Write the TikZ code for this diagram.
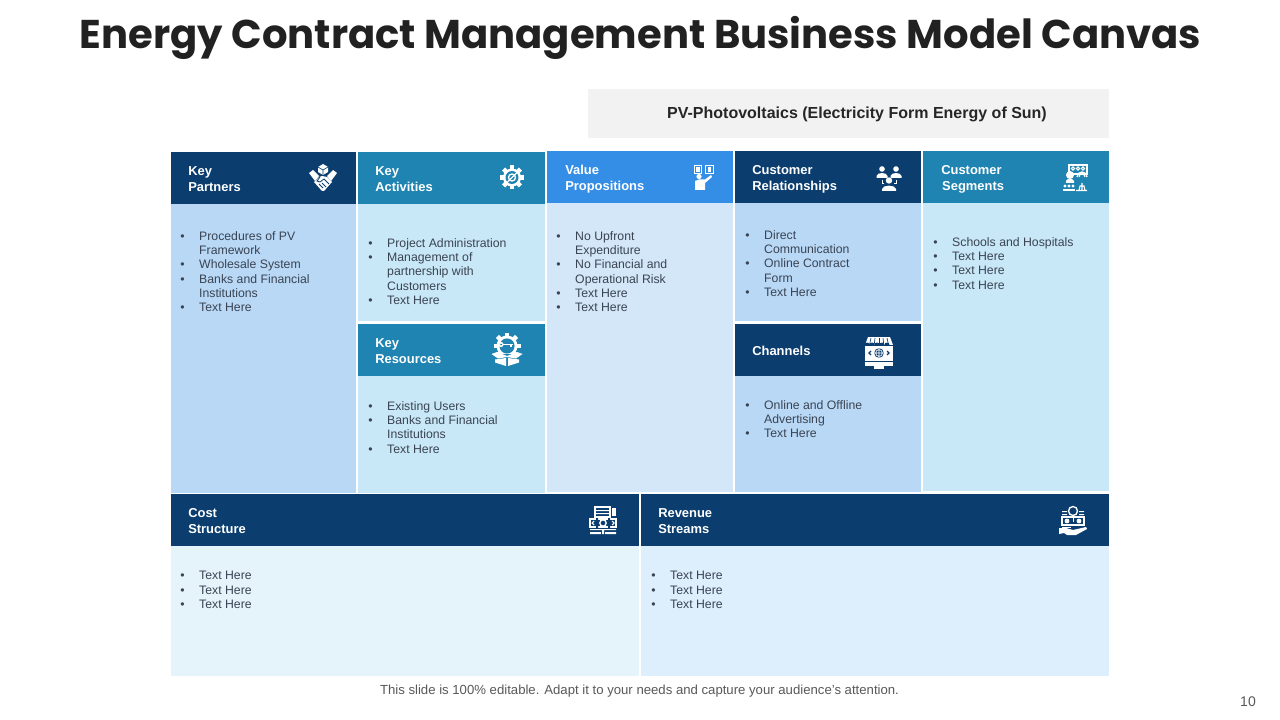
\documentclass[tikz,border=0pt]{standalone}
\usepackage{fontspec}
\setmainfont{Liberation Sans}
\newfontfamily\titlefont{Poppins}
\definecolor{navy}{HTML}{0B3E6F}
\definecolor{teal1}{HTML}{1F84B1}
\definecolor{blue1}{HTML}{358EE6}
\definecolor{bodyA}{HTML}{B8D8F6}
\definecolor{bodyB}{HTML}{C9E8F7}
\definecolor{bodyC}{HTML}{D3E7F9}
\definecolor{bodyD}{HTML}{E5F3FA}
\definecolor{bodyE}{HTML}{DDEEFD}
\definecolor{txt}{HTML}{3A4453}
\newcommand{\bul}{\makebox[14.2pt][l]{\textbullet}}
\newcommand{\cont}{\hspace*{14.2pt}}
\tikzset{
  x=0.75pt,y=-0.75pt,
  head/.style={anchor=north west,inner sep=0pt,align=left,text=white,font=\fontsize{9.7}{12}\selectfont\bfseries},
  bodytxt/.style={anchor=north west,inner sep=0pt,align=left,text=txt,font=\fontsize{9.2}{10.75}\selectfont},
}
\newcommand{\gearshape}[4]{% radius, tooth len, n step, hole colour
  \fill[white] (0,0) circle (#1);
  \foreach \a in {0,#3,...,359}{\fill[white,rotate=\a] (-2.2,-#1-#2) rectangle (2.2,-#1+1);}
  \fill[#4] (0,0) circle (#1*0.72);
}
\begin{document}
\begin{tikzpicture}
\useasboundingbox (0,0) rectangle (1280,720);
\fill[white] (0,0) rectangle (1280,720);
% bodies
\fill[bodyA] (171,204) rectangle (356,493);
\fill[bodyB] (358,204) rectangle (545,321);
\fill[bodyB] (358,376) rectangle (545,493);
\fill[bodyC] (547,203) rectangle (733,492);
\fill[bodyA] (735,203) rectangle (921,321);
\fill[bodyA] (735,376) rectangle (921,492);
\fill[bodyB] (923,203) rectangle (1109,491);
\fill[bodyD] (171,546) rectangle (639,676);
\fill[bodyE] (641,546) rectangle (1109,676);
% headers
\fill[navy] (171,152) rectangle (356,204);
\fill[teal1] (358,152) rectangle (545,204);
\fill[blue1] (547,151) rectangle (733,203);
\fill[navy] (735,151) rectangle (921,203);
\fill[teal1] (923,151) rectangle (1109,203);
\fill[teal1] (358,324) rectangle (545,376);
\fill[navy] (735,324) rectangle (921,376);
\fill[navy] (171,494) rectangle (639,546);
\fill[navy] (641,494) rectangle (1109,546);
\fill[black!5] (588,89) rectangle (1109,138);
% title etc
\node[inner sep=0pt,text=black!87] (title) at (640.5,37.5) {\titlefont\fontsize{30.1}{34}\selectfont\bfseries Energy Contract Management Business Model Canvas};
\node[inner sep=0pt,text=black!85] (pv) at (857,114.5) {\fontsize{12}{14}\selectfont\bfseries PV-Photovoltaics (Electricity Form Energy of Sun)};
\node[inner sep=0pt,text=black!65] (foot) at (639.5,691.5) {\fontsize{9.87}{11}\selectfont This slide is 100\% editable. Adapt it to your needs and capture your audience's attention.};
\node[inner sep=0pt,text=black!65] (page) at (1248,702) {\fontsize{10.5}{12}\selectfont 10};
% header labels
\node[head] (h1) at (188,166) {Key\\Partners};
\node[head] (h2) at (375,166) {Key\\Activities};
\node[head] (h3) at (565,165) {Value\\Propositions};
\node[head] (h4) at (752,165) {Customer\\Relationships};
\node[head] (h5) at (941,165) {Customer\\\hspace*{0.7pt}Segments};
\node[head] (h6) at (375,338) {Key\\Resources};
\node[head,anchor=west] (h7) at (752,351) {Channels};
\node[head] (h8) at (188,508) {Cost\\Structure};
\node[head] (h9) at (658,508) {Revenue\\Streams};
% body text
\node[bodytxt] (b1) at (180,231) {\bul Procedures of PV\\\cont Framework\\\bul Wholesale System\\\bul Banks and Financial\\\cont Institutions\\\bul Text Here};
\node[bodytxt] (b2) at (368,238) {\bul Project Administration\\\bul Management of\\\cont partnership with\\\cont Customers\\\bul Text Here};
\node[bodytxt] (b3) at (556,231) {\bul No Upfront\\\cont Expenditure\\\bul No Financial and\\\cont Operational Risk\\\bul Text Here\\\bul Text Here};
\node[bodytxt] (b4) at (745,230) {\bul Direct\\\cont Communication\\\bul Online Contract\\\cont Form\\\bul Text Here};
\node[bodytxt] (b5) at (933,237) {\bul Schools and Hospitals\\\bul Text Here\\\bul Text Here\\\bul Text Here};
\node[bodytxt] (b6) at (368,401) {\bul Existing Users\\\bul Banks and Financial\\\cont Institutions\\\bul Text Here};
\node[bodytxt] (b7) at (745,400) {\bul Online and Offline\\\cont Advertising\\\bul Text Here};
\node[bodytxt] (b8) at (180,571) {\bul Text Here\\\bul Text Here\\\bul Text Here};
\node[bodytxt] (b9) at (651,571) {\bul Text Here\\\bul Text Here\\\bul Text Here};
% icon: handshake
\begin{scope}[shift={(323,178)}]
  \fill[white] (-14,-5) -- (-10,-8) -- (-4,-2) -- (-8,3) -- cycle;
  \fill[white] (14,-5) -- (10,-8) -- (4,-2) -- (8,3) -- cycle;
  \fill[white] (-9,4) -- (-4,-1) -- (-1,-2) -- (4,-1) -- (9,4) -- (1,13) -- (-1,13) -- cycle;
  \draw[navy,line width=.6pt] (-3,-1) -- (-6,3) -- (-3,4) -- (1,1) -- (6,6) (-4,6) -- (0,10) (-1,5) -- (3,9);
  \fill[white] (0,-14) -- (5,-11) -- (5,-6) -- (0,-3) -- (-5,-6) -- (-5,-11) -- cycle;
  \draw[navy,line width=.5pt] (-5,-11) -- (0,-8) -- (5,-11) (0,-8) -- (0,-3);
\end{scope}
% icon: activities gear
\begin{scope}[shift={(512,177.5)}]
  \gearshape{9}{3}{45}{teal1}
  \draw[white,line width=1pt] (0,0) circle (3.5);
  \draw[white,line width=1pt] (-6,6) -- (6,-6);
\end{scope}
% icon: value propositions
\begin{scope}[shift={(704,177)}]
  \fill[white] (-10,-12) rectangle (-2,-3);
  \fill[white] (1,-12) rectangle (10,-3);
  \fill[blue1] (-9,-11) rectangle (-3,-4);
  \fill[blue1] (2,-11) rectangle (9,-4);
  \fill[white] (-8,-10) rectangle (-4,-5);
  \fill[white] (4,-10) rectangle (7,-5);
  \fill[white] (-5,-0.5) circle (2.6);
  \fill[white] (-9,13) -- (-9,4) -- (-5,2.5) -- (1,2.5) -- (7,-2) -- (8,0) -- (1,6) -- (1,13) -- cycle;
\end{scope}
% icon: relationships
\begin{scope}[shift={(889,178)}]
  \foreach \x/\y in {-7/-9,7/-9}{
    \fill[white] (\x,\y) circle (2.8);
    \fill[white] (\x-5.5,\y+9) -- (\x-5.5,\y+7) .. controls (\x-5,\y+3) and (\x+5,\y+3) .. (\x+5.5,\y+7) -- (\x+5.5,\y+9) -- cycle;
  }
  \fill[white] (0,2.5) circle (3.2);
  \fill[white] (-7,13) -- (-7,11) .. controls (-6,6.5) and (6,6.5) .. (7,11) -- (7,13) -- cycle;
  \draw[white,line width=.7pt] (-7,2) -- (-7,5) -- (-5,5) (7,2) -- (7,5) -- (5,5);
\end{scope}
% icon: segments
\begin{scope}[shift={(1075,178)}]
  \draw[white,line width=1pt] (-6,-13) rectangle (12,-4);
  \foreach \x in {-2,3,8}{\draw[white,line width=.8pt] (\x,-9.5) circle (1.7);}
  \fill[white] (-6,-4) rectangle (12,-2.6);
  \fill[white] (-5,-3) circle (4);
  \fill[white] (-9,5) -- (-9,3) .. controls (-8,0) and (-2,0) .. (-1,3) -- (-1,5) -- cycle;
  \draw[white,line width=1pt] (2,-1) arc[start angle=180,end angle=360,radius=5];
  \draw[white,line width=.8pt] (4,-1) arc[start angle=180,end angle=360,radius=3];
  \foreach \x in {-10,-6,-2}{\fill[white] (\x,8) circle (1.6); \fill[white] (\x-2,13) -- (\x-2,11) -- (\x+2,11) -- (\x+2,13) -- cycle;}
  \draw[white,line width=.8pt] (1,12.5) -- (12,12.5) (7,5) -- (7,12.5) (4,12.5) -- (5,8) -- (9,8) -- (10,12.5);
\end{scope}
% icon: resources
\begin{scope}[shift={(507,349)}]
  \begin{scope}[shift={(0,-3)}]
  \gearshape{10.5}{3}{45}{teal1}
  \fill[white] (-6,-1.5) circle (2.6);
  \fill[teal1] (-6,-1.5) circle (1);
  \fill[white] (-4,-2.3) rectangle (6,-.7);
  \fill[white] (3,-1) rectangle (4.5,1);
  \end{scope}
  \fill[teal1] (-15,5) rectangle (15,18);
  \fill[white] (-15.5,5) -- (-10,3) -- (0,7) -- (10,3) -- (15.5,5) -- (9,9.5) -- (0,8) -- (-9,9.5) -- cycle;
  \fill[white] (-12,10.5) -- (-1,9) -- (-1,17) -- (-12,13.5) -- cycle;
  \fill[white] (12,10.5) -- (1,9) -- (1,17) -- (12,13.5) -- cycle;
\end{scope}
% icon: channels
\begin{scope}[shift={(879,352)}]
  \fill[white] (-14,-7) rectangle (14,14);
  \fill[white] (-11,-15) -- (11,-15) -- (14,-7) -- (-14,-7) -- cycle;
  \foreach \x in {-8,-4,...,8}{\draw[navy,line width=.5pt] (\x,-14) -- (\x*1.2,-7);}
  \draw[navy,line width=.5pt] (-14,-7) -- (14,-7);
  \foreach \x in {-12,-7,...,8}{\fill[navy] (\x+2.5,-7) arc[start angle=0,end angle=-180,radius=2.5] -- cycle;}
  \fill[navy] (0,1) circle (4.8);
  \draw[white,line width=.5pt] (0,1) circle (3.4) (-4.8,1) -- (4.8,1) (0,-3.8) -- (0,5.8);
  \draw[navy,line width=1pt] (-8,-1) -- (-10,1) -- (-8,3) (8,-1) -- (10,1) -- (8,3);
  \fill[navy] (-14,9) rectangle (14,10);
  \fill[white] (-5,14) rectangle (5,17);
\end{scope}
% icon: cost
\begin{scope}[shift={(603,520)}]
  \draw[white,line width=1.1pt] (-8,-13) rectangle (7,-3);
  \fill[white] (-8,-10) rectangle (7,-9) (-8,-7) rectangle (7,-6);
  \fill[white] (9,-12) rectangle (13,-4);
  \draw[white,line width=1.1pt] (-13,-1) rectangle (13,7);
  \fill[navy] (-7,-2) rectangle (-5,8) (5,-2) rectangle (7,8);
  \draw[white,line width=1pt] (0,3) circle (3.2);
  \draw[white,line width=.8pt] (-9,1) -- (-11,3) -- (-9,5) (9,1) -- (11,3) -- (9,5);
  \fill[white] (-13,9) rectangle (13,10) (-13,12) rectangle (-2,14) (2,12) rectangle (13,14) (-1,9) rectangle (1,14);
\end{scope}
% icon: revenue
\begin{scope}[shift={(1073,520)}]
  \draw[white,line width=1pt] (0,-9) circle (4.5);
  \draw[white,line width=.7pt] (0,-5) -- (0,2);
  \fill[white] (-11,-9) rectangle (-6,-8) (-11,-6) rectangle (-6,-5) (6,-9) rectangle (11,-8) (6,-6) rectangle (11,-5);
  \draw[white,line width=1pt] (-11,-3) rectangle (11,5);
  \fill[white] (-6,1) circle (2.4) (6,1) circle (2.4);
  \fill[white] (-11,7) rectangle (-2,8.2);
  \fill[white] (-14,8) -- (-7,8) -- (0,10) -- (13,7) -- (14,9) -- (3,15) -- (-6,15) -- (-9,13) -- (-14,14) -- cycle;
\end{scope}
\end{tikzpicture}
\end{document}
